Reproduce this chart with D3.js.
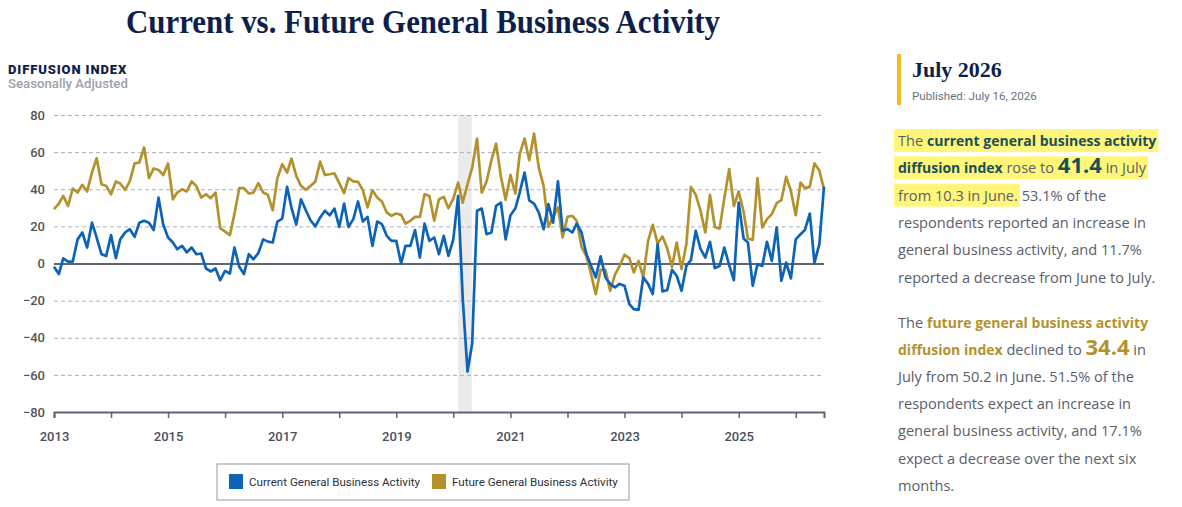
<!DOCTYPE html>
<html>
<head>
<meta charset="utf-8">
<script src="https://cdn.jsdelivr.net/npm/d3@7"></script>
<style>
  body { margin: 0; background: #fff; }
  text { white-space: pre; }
</style>
</head>
<body>
<script>
// monthly values, Jan 2013 .. Jul 2026
var currentVals = [
  -1.8, -5.7, 2.7, 1, 1, 13, 16.7, 8.6, 22, 14, 5, 4,
  15.3, 2.9, 13, 16.7, 18.5, 14.4, 21.9, 23, 22, 18, 35.5, 21,
  14, 11.3, 7.7, 9.5, 6, 8.6, 5, 5.4, -2.7, -4.3, -2.7, -9,
  -4, -5.4, 8.6, -1.8, -5.7, 5, 2.3, 5.6, 13, 11.8, 11.3, 22.6,
  24.2, 41.3, 30, 21, 34.6, 28.7, 23.3, 20, 24.8, 28.4, 26, 29.6,
  19.7, 32.3, 19.7, 23.9, 33.4, 22.6, 25.1, 9.5, 22.6, 21.2, 14.9, 12.2,
  12.2, 0, 9.5, 9.5, 18, 3.2, 21.5, 12.2, 14, 5, 14.9, 4.1,
  13, 36.4, -18.3, -58.2, -43, 28.4, 29.6, 15.8, 16.7, 31, 32.8, 13,
  26, 29.6, 38.2, 49, 34, 32.3, 27.5, 18.5, 32, 22, 44.2, 17.6,
  18.5, 16.7, 21.5, 16.7, 5.4, -1.3, -7.5, 3.9, -7.5, -11, -12.9, -11,
  -12, -21.9, -24.6, -25, -7.5, -11, -16.5, 10.4, -15, -14.4, -3.4, -6.6,
  -14.7, -1.3, 1.8, 17.6, 8, 3.2, 11.7, -2.5, -1.3, 8.6, -0.9, -9,
  32.8, 13.5, 11.3, -12, -0.4, -1.3, 11.7, 1.4, 19.4, -9.3, 0.5, -8,
  13, 15.8, 18.1, 26.9, 0.5, 10.3, 41.4
];
var futureVals = [
  29.3, 32.3, 36.4, 31, 40.4, 38.2, 42.4, 38.8, 49, 56.7, 42.7, 41.8,
  37.3, 44.2, 43.1, 39.7, 44.2, 53.9, 54.4, 62.5, 46, 51.2, 50.4, 47.7,
  53.9, 34.6, 38.2, 40, 38.8, 44.2, 41.8, 35.5, 37.3, 35.2, 38.2, 19,
  17.2, 15.3, 26.6, 40.6, 40.6, 37.7, 38.2, 43.3, 38.2, 37, 28.7, 46,
  53.5, 49, 56.5, 47.2, 41.8, 39.7, 41.8, 44.2, 54.9, 47.7, 48.1, 48.6,
  43.3, 37.9, 46, 44.2, 44, 39.5, 30.2, 39.5, 35.5, 33.4, 27.5, 25.7,
  26.9, 26.2, 21.5, 23, 25.1, 25.1, 37.3, 36.4, 23, 34.6, 35.9, 29.8,
  35, 43.6, 32.8, 42.7, 51.7, 67.3, 38.2, 44.2, 55.6, 64.6, 46.7, 34.3,
  47.7, 37.7, 58.9, 67.3, 55.6, 70, 51.7, 41.8, 19.7, 25.1, 30.2, 14,
  25.1, 25.7, 23, 9, 4.1, -5.7, -16.5, -3.4, -3.4, -14.7, -6, -1.3,
  4.7, 2.9, -4.8, 1.4, -7.5, 12.2, 20.8, 10.8, 14.5, 8.3, -1.8, 11.3,
  -3, 10.4, 41.3, 37, 28.7, 16.7, 37, 19.7, 18.8, 35.2, 50.8, 31,
  38.8, 28, 13.5, 12.7, 46, 19.4, 23.9, 26.6, 32.5, 34.1, 46.7, 39.1,
  26, 43.6, 40.6, 41.3, 53.9, 50.2, 40
];
var yTicks = [-80, -60, -40, -20, 0, 20, 40, 60, 80];
var yearLabels = [2013, 2015, 2017, 2019, 2021, 2023, 2025];
var seriesNames = ["Current General Business Activity", "Future General Business Activity"];
var colors = ["#0e63b5", "#b3922e"];
var recession = [new Date(2020, 1, 1), new Date(2020, 3, 28)];

var months = d3.timeMonth.range(new Date(2013, 0, 1), new Date(2026, 7, 1));

var svg = d3.select("body")
    .append("svg")
    .attr("width", 1182)
    .attr("height", 507)
    .style("display", "block");

var margin = {top: 115, left: 54, right: 358, bottom: 95};
var width = 1182 - margin.left - margin.right;
var height = 507 - margin.top - margin.bottom;

var g = svg.append("g").attr("transform", "translate(" + margin.left + "," + margin.top + ")");

var x = d3.scaleTime()
    .domain([months[0], months[months.length - 1]])
    .range([0, width]);

var y = d3.scaleLinear()
    .domain([-80, 80])
    .range([height, 0]);

// title
var title = svg.append("text")
    .attr("x", 423)
    .attr("y", 33)
    .attr("text-anchor", "middle")
    .style("font-family", "'Liberation Serif', serif")
    .style("font-weight", "bold")
    .style("font-size", "33px")
    .style("fill", "#0f1f4b")
    .text("Current vs. Future General Business Activity");
title.attr("textLength", 594).attr("lengthAdjust", "spacingAndGlyphs");

svg.append("text")
    .attr("x", 8)
    .attr("y", 74)
    .style("font-family", "Roboto, sans-serif")
    .style("font-weight", "900")
    .style("font-size", "13px")
    .style("letter-spacing", "0.9px")
    .style("fill", "#0f1f4b")
    .text("DIFFUSION INDEX");

svg.append("text")
    .attr("x", 8)
    .attr("y", 88)
    .style("font-family", "Roboto, sans-serif")
    .style("font-weight", "500")
    .style("font-size", "13.2px")
    .style("fill", "#9ba1ad")
    .text("Seasonally Adjusted");

// recession shading
g.append("rect")
    .attr("x", x(recession[0]))
    .attr("y", 0)
    .attr("width", x(recession[1]) - x(recession[0]))
    .attr("height", height)
    .attr("fill", "#ebebeb");

var yAxis = d3.axisLeft(y)
    .tickValues(yTicks)
    .tickSize(-width)
    .tickPadding(9);

g.append("g")
    .call(customYAxis);

function customYAxis(g) {
    g.call(yAxis);
    g.select(".domain").remove();
    g.selectAll(".tick line")
        .attr("stroke", "#a9b2c3")
        .attr("stroke-dasharray", "4,3");
    g.selectAll(".tick")
        .filter(function(d) { return d === 0; })
        .select("line")
        .attr("stroke", "#5d6472")
        .attr("stroke-width", 2)
        .attr("stroke-dasharray", null);
    g.selectAll(".tick text")
        .style("font-family", "Roboto, sans-serif")
        .style("font-size", "13px")
        .style("font-weight", "500")
        .style("fill", "#555");
}

var xAxis = d3.axisBottom(x)
    .ticks(d3.timeYear.every(1))
    .tickSize(6)
    .tickSizeOuter(6)
    .tickPadding(14)
    .tickFormat(function(d) {
        var yr = d.getFullYear();
        return yearLabels.indexOf(yr) >= 0 ? yr : "";
    });

g.append("g")
    .attr("transform", "translate(0," + height + ")")
    .call(customXAxis);

function customXAxis(g) {
    g.call(xAxis);
    g.select(".domain").attr("stroke", "#5d6472").attr("stroke-width", 2);
    g.selectAll(".tick line").attr("stroke", "#5d6472").attr("stroke-width", 1.5);
    g.selectAll(".tick text")
        .style("font-family", "Roboto, sans-serif")
        .style("font-size", "13px")
        .style("font-weight", "500")
        .style("fill", "#4a4f5c");
}

var line = d3.line()
    .x(function(d, i) { return x(months[i]); })
    .y(function(d) { return y(d); });

[futureVals, currentVals].forEach(function(vals) {
    g.append("path")
        .datum(vals)
        .attr("d", line)
        .attr("fill", "none")
        .attr("stroke", vals === currentVals ? colors[0] : colors[1])
        .attr("stroke-width", 2.7)
        .attr("stroke-linejoin", "round");
});

// legend
var legend = svg.append("g").attr("transform", "translate(217,464)");
legend.append("rect")
    .attr("width", 412)
    .attr("height", 36)
    .attr("fill", "#fff")
    .attr("stroke", "#9a9a9a");
var lx = [12, 215];
seriesNames.forEach(function(name, k) {
    legend.append("rect")
        .attr("x", lx[k])
        .attr("y", 10)
        .attr("width", 14)
        .attr("height", 15)
        .attr("fill", colors[k]);
    legend.append("text")
        .attr("x", lx[k] + 20)
        .attr("y", 22)
        .style("font-family", "Roboto, sans-serif")
        .style("font-size", "11.6px")
        .style("fill", "#2b3140")
        .text(name);
});

// right panel
svg.append("rect")
    .attr("x", 897)
    .attr("y", 54)
    .attr("width", 4)
    .attr("height", 51)
    .attr("fill", "#f3bd1c");

svg.append("text")
    .attr("x", 912)
    .attr("y", 77)
    .style("font-family", "'Liberation Serif', serif")
    .style("font-weight", "bold")
    .style("font-size", "22px")
    .style("fill", "#0f1f4b")
    .text("July 2026");

svg.append("text")
    .attr("x", 912)
    .attr("y", 100)
    .style("font-family", "Roboto, sans-serif")
    .style("font-size", "11.6px")
    .style("fill", "#6b7080")
    .text("Published: July 16, 2026");

var teal = "#17505b", gold = "#b3922e", body = "#5a5e6a";

var para1 = [
    [{t: "The ", hl: 1}, {t: "current general business activity", b: 1, c: teal, hl: 1}],
    [{t: "diffusion index", b: 1, c: teal, hl: 1}, {t: " rose to ", hl: 1}, {t: "41.4", b: 1, big: 1, c: teal, hl: 1}, {t: " in July", hl: 1}],
    [{t: "from 10.3 in June.", hl: 1}, {t: " 53.1% of the"}],
    [{t: "respondents reported an increase in"}],
    [{t: "general business activity, and 11.7%"}],
    [{t: "reported a decrease from June to July."}]
];
var para2 = [
    [{t: "The "}, {t: "future general business activity", b: 1, c: gold}],
    [{t: "diffusion index", b: 1, c: gold}, {t: " declined to "}, {t: "34.4", b: 1, big: 1, c: gold}, {t: " in"}],
    [{t: "July from 50.2 in June. 51.5% of the"}],
    [{t: "respondents expect an increase in"}],
    [{t: "general business activity, and 17.1%"}],
    [{t: "expect a decrease over the next six"}],
    [{t: "months."}]
];

function drawPara(lines, x0, y0, lh) {
    var pg = svg.append("g");
    var hlG = pg.append("g");
    lines.forEach(function(segs, i) {
        var yy = y0 + i * lh;
        var cx = x0, hlStart = null, hlEnd = null;
        segs.forEach(function(s) {
            var t = pg.append("text")
                .attr("x", cx)
                .attr("y", yy)
                .style("font-family", "'Open Sans', sans-serif")
                .style("font-size", s.big ? "22px" : (s.b ? "14px" : "14.6px"))
                .style("font-weight", s.b ? "bold" : "normal")
                .style("fill", s.c || body)
                .text(s.t);
            var w = t.node().getComputedTextLength();
            if (s.hl) {
                if (hlStart === null) hlStart = cx;
                hlEnd = cx + w;
            }
            cx += w;
        });
        if (hlStart !== null) {
            hlG.append("rect")
                .attr("x", hlStart - 4)
                .attr("y", yy - 17)
                .attr("width", hlEnd - hlStart + 6)
                .attr("height", 23)
                .attr("fill", "#fff67a");
        }
    });
}

drawPara(para1, 898, 146, 27.3);
drawPara(para2, 898, 328, 27.1);
</script>
</body>
</html>
